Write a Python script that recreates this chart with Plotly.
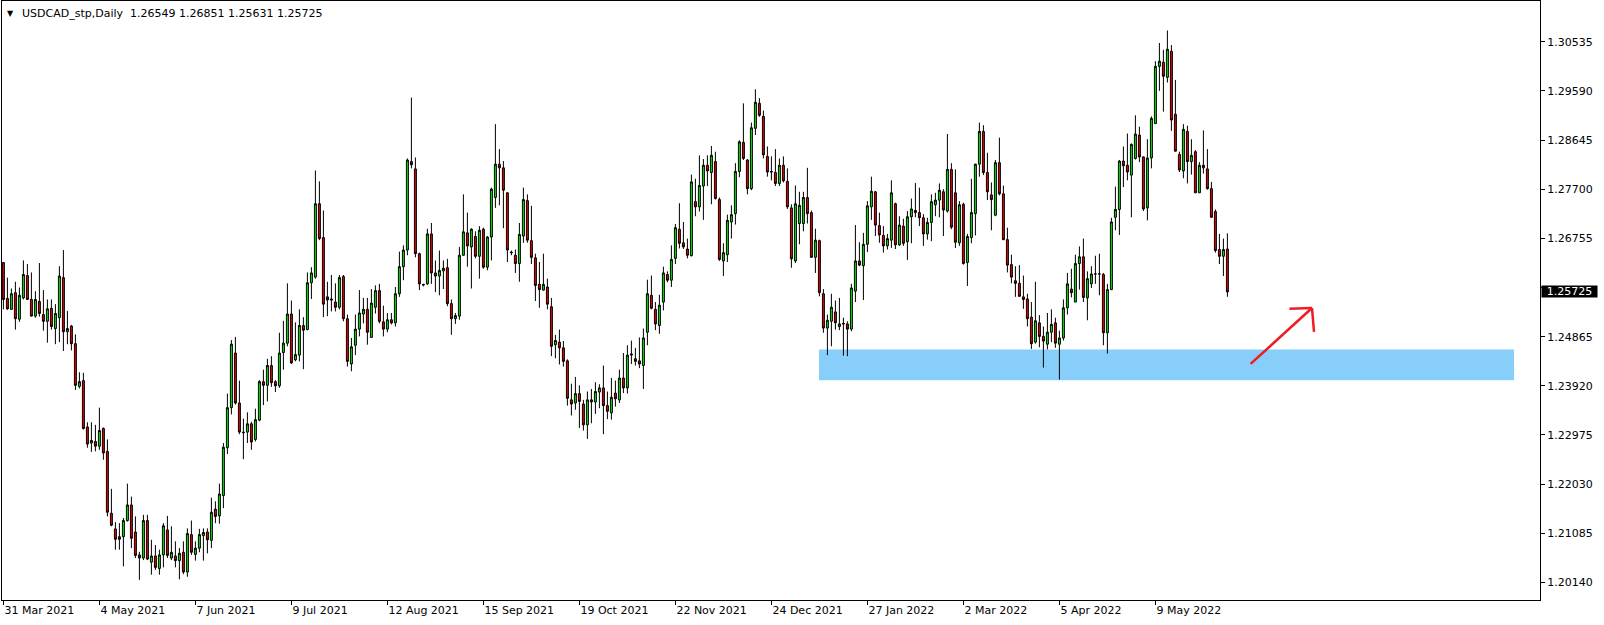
import plotly.graph_objects as go

# ---------------- data (USDCAD daily) ----------------
open_ = [
1.2629,1.2560,1.2539,1.2571,1.2520,1.2561,1.2604,1.2558,1.2526,1.2554,
1.2529,1.2516,1.2541,1.2502,1.2523,1.2600,1.2496,1.2507,1.2473,1.2391,
1.2402,1.2313,1.2282,1.2285,1.2276,1.2310,1.2266,1.2147,1.2117,1.2102,
1.2102,1.2133,1.2163,1.2111,1.2067,1.2061,1.2133,1.2053,1.2065,1.2041,
1.2067,1.2115,1.2061,1.2065,1.2056,1.2072,1.2034,1.2106,1.2068,1.2080,
1.2104,1.2111,1.2095,1.2155,1.2142,1.2181,1.2273,1.2350,1.2455,1.2359,
1.2303,1.2303,1.2319,1.2289,1.2326,1.2400,1.2393,1.2431,1.2400,1.2392,
1.2456,1.2474,1.2530,1.2442,1.2451,1.2508,1.2500,1.2590,1.2601,1.2742,
1.2677,1.2563,1.2559,1.2553,1.2543,1.2602,1.2521,1.2434,1.2470,1.2501,
1.2530,1.2539,1.2485,1.2543,1.2575,1.2515,1.2501,1.2519,1.2513,1.2569,
1.2621,1.2653,1.2823,1.2809,1.2646,1.2587,1.2588,1.2684,1.2609,1.2603,
1.2613,1.2619,1.2550,1.2521,1.2526,1.2643,1.2686,1.2659,1.2679,1.2641,
1.2693,1.2620,1.2678,1.2754,1.2818,1.2811,1.2763,1.2649,1.2643,1.2627,
1.2680,1.2748,1.2671,1.2638,1.2587,1.2576,1.2582,1.2544,1.2471,1.2476,
1.2465,1.2440,1.2365,1.2359,1.2377,1.2357,1.2317,1.2365,1.2361,1.2380,
1.2388,1.2354,1.2340,1.2378,1.2365,1.2407,1.2388,1.2451,1.2444,1.2440,
1.2431,1.2495,1.2566,1.2539,1.2508,1.2553,1.2606,1.2595,1.2637,1.2693,
1.2667,1.2655,1.2642,1.2746,1.2736,1.2776,1.2816,1.2802,1.2823,1.2750,
1.2632,1.2644,1.2707,1.2723,1.2804,1.2860,1.2826,1.2771,1.2887,1.2935,
1.2910,1.2833,1.2804,1.2802,1.2781,1.2816,1.2785,1.2734,1.2632,1.2704,
1.2704,1.2754,1.2725,1.2639,1.2671,1.2569,1.2503,1.2516,1.2534,1.2506,
1.2512,1.2511,1.2501,1.2574,1.2632,1.2623,1.2664,1.2736,1.2765,1.2700,
1.2681,1.2661,1.2672,1.2742,1.2663,1.2699,1.2669,1.2717,1.2729,1.2725,
1.2715,1.2684,1.2706,1.2740,1.2749,1.2765,1.2728,1.2808,1.2763,1.2667,
1.2741,1.2629,1.2677,1.2723,1.2818,1.2881,1.2802,1.2759,1.2720,1.2821,
1.2761,1.2673,1.2625,1.2594,1.2589,1.2563,1.2559,1.2524,1.2476,1.2513,
1.2487,1.2472,1.2495,1.2513,1.2472,1.2484,1.2542,1.2578,1.2553,1.2627,
1.2640,1.2561,1.2588,1.2607,1.2607,1.2606,1.2494,1.2577,1.2716,1.2731,
1.2824,1.2816,1.2797,1.2829,1.2874,1.2832,1.2734,1.2830,1.2896,1.3006,
1.3014,1.2985,1.3035,1.2914,1.2837,1.2805,1.2881,1.2823,1.2842,1.2763,
1.2816,1.2809,1.2771,1.2727,1.2654,1.2641,1.26549]

high = [
1.2630,1.2600,1.2579,1.2592,1.2581,1.2633,1.2626,1.2610,1.2574,1.2628,
1.2576,1.2558,1.2558,1.2549,1.2622,1.2653,1.2536,1.2509,1.2491,1.2418,
1.2417,1.2322,1.2322,1.2317,1.2350,1.2312,1.2289,1.2194,1.2130,1.2128,
1.2138,1.2204,1.2179,1.2141,1.2073,1.2144,1.2144,1.2096,1.2086,1.2077,
1.2128,1.2142,1.2122,1.2093,1.2080,1.2093,1.2118,1.2133,1.2093,1.2117,
1.2118,1.2118,1.2177,1.2170,1.2204,1.2282,1.2377,1.2480,1.2486,1.2402,
1.2329,1.2341,1.2323,1.2348,1.2403,1.2423,1.2444,1.2449,1.2403,1.2494,
1.2517,1.2589,1.2556,1.2514,1.2539,1.2524,1.2610,1.2620,1.2806,1.2785,
1.2729,1.2592,1.2605,1.2589,1.2605,1.2605,1.2529,1.2484,1.2529,1.2576,
1.2561,1.2561,1.2578,1.2585,1.2588,1.2546,1.2532,1.2532,1.2582,1.2650,
1.2662,1.2829,1.2946,1.2831,1.2648,1.2588,1.2694,1.2705,1.2633,1.2652,
1.2633,1.2636,1.2558,1.2532,1.2659,1.2760,1.2725,1.2695,1.2689,1.2699,
1.2696,1.2680,1.2773,1.2895,1.2847,1.2824,1.2764,1.2652,1.2654,1.2705,
1.2773,1.2760,1.2738,1.2646,1.2630,1.2646,1.2598,1.2561,1.2490,1.2500,
1.2478,1.2443,1.2396,1.2409,1.2393,1.2365,1.2381,1.2386,1.2399,1.2395,
1.2431,1.2381,1.2407,1.2402,1.2423,1.2455,1.2470,1.2479,1.2465,1.2485,
1.2502,1.2596,1.2604,1.2553,1.2567,1.2621,1.2612,1.2662,1.2703,1.2743,
1.2707,1.2675,1.2798,1.2790,1.2835,1.2828,1.2835,1.2853,1.2842,1.2754,
1.2666,1.2721,1.2739,1.2820,1.2864,1.2935,1.2828,1.2898,1.2962,1.2945,
1.2921,1.2852,1.2833,1.2847,1.2829,1.2833,1.2810,1.2741,1.2777,1.2765,
1.2765,1.2811,1.2729,1.2694,1.2673,1.2578,1.2529,1.2569,1.2556,1.2561,
1.2523,1.2516,1.2588,1.2701,1.2668,1.2686,1.2747,1.2794,1.2766,1.2725,
1.2699,1.2684,1.2787,1.2744,1.2718,1.2713,1.2728,1.2752,1.2782,1.2773,
1.2722,1.2715,1.2760,1.2763,1.2781,1.2770,1.2876,1.2820,1.2808,1.2747,
1.2744,1.2684,1.2790,1.2819,1.2898,1.2893,1.2840,1.2783,1.2826,1.2869,
1.2777,1.2696,1.2644,1.2622,1.2624,1.2604,1.2569,1.2553,1.2592,1.2528,
1.2506,1.2532,1.2539,1.2523,1.2498,1.2558,1.2609,1.2617,1.2644,1.2660,
1.2675,1.2612,1.2622,1.2642,1.2646,1.2609,1.2588,1.2715,1.2775,1.2826,
1.2852,1.2877,1.2858,1.2912,1.2890,1.2833,1.2866,1.2910,1.3016,1.3051,
1.3038,1.3075,1.3047,1.2980,1.2842,1.2895,1.2892,1.2866,1.2845,1.2822,
1.2883,1.2847,1.2784,1.2731,1.2684,1.2675,1.26851]

low = [
1.2539,1.2538,1.2538,1.2500,1.2515,1.2558,1.2557,1.2525,1.2523,1.2525,
1.2498,1.2475,1.2500,1.2472,1.2476,1.2459,1.2472,1.2460,1.2384,1.2387,
1.2308,1.2273,1.2265,1.2266,1.2269,1.2250,1.2141,1.2122,1.2077,1.2077,
1.2045,1.2131,1.2080,1.2061,1.2019,1.2057,1.2057,1.2029,1.2038,1.2029,
1.2043,1.2061,1.2057,1.2043,1.2020,1.2030,1.2025,1.2067,1.2056,1.2072,
1.2056,1.2070,1.2080,1.2128,1.2127,1.2157,1.2261,1.2337,1.2356,1.2299,
1.2251,1.2282,1.2269,1.2285,1.2324,1.2355,1.2362,1.2390,1.2380,1.2388,
1.2423,1.2468,1.2434,1.2439,1.2439,1.2424,1.2499,1.2559,1.2598,1.2672,
1.2524,1.2526,1.2535,1.2535,1.2539,1.2516,1.2429,1.2420,1.2451,1.2487,
1.2512,1.2471,1.2485,1.2531,1.2512,1.2487,1.2495,1.2510,1.2506,1.2563,
1.2595,1.2643,1.2810,1.2639,1.2576,1.2583,1.2586,1.2588,1.2572,1.2566,
1.2578,1.2545,1.2490,1.2511,1.2519,1.2642,1.2621,1.2579,1.2637,1.2598,
1.2617,1.2614,1.2633,1.2734,1.2739,1.2695,1.2630,1.2643,1.2609,1.2592,
1.2667,1.2667,1.2626,1.2555,1.2542,1.2575,1.2539,1.2449,1.2445,1.2433,
1.2429,1.2354,1.2335,1.2346,1.2311,1.2306,1.2290,1.2320,1.2338,1.2349,
1.2299,1.2328,1.2327,1.2352,1.2359,1.2378,1.2377,1.2434,1.2431,1.2426,
1.2386,1.2470,1.2539,1.2499,1.2492,1.2537,1.2591,1.2582,1.2626,1.2656,
1.2655,1.2637,1.2641,1.2718,1.2727,1.2711,1.2776,1.2741,1.2750,1.2632,
1.2603,1.2630,1.2675,1.2702,1.2793,1.2826,1.2760,1.2768,1.2874,1.2909,
1.2829,1.2794,1.2787,1.2776,1.2776,1.2783,1.2732,1.2619,1.2628,1.2664,
1.2689,1.2704,1.2638,1.2609,1.2564,1.2494,1.2451,1.2468,1.2500,1.2499,
1.2450,1.2449,1.2497,1.2553,1.2622,1.2557,1.2649,1.2711,1.2680,1.2667,
1.2648,1.2654,1.2657,1.2655,1.2661,1.2661,1.2634,1.2666,1.2716,1.2699,
1.2661,1.2673,1.2670,1.2718,1.2716,1.2680,1.2725,1.2693,1.2657,1.2661,
1.2625,1.2584,1.2666,1.2681,1.2794,1.2797,1.2749,1.2691,1.2718,1.2758,
1.2672,1.2610,1.2589,1.2563,1.2563,1.2540,1.2506,1.2463,1.2473,1.2466,
1.2427,1.2462,1.2476,1.2465,1.2404,1.2479,1.2529,1.2562,1.2553,1.2577,
1.2553,1.2518,1.2580,1.2588,1.2566,1.2470,1.2454,1.2576,1.2691,1.2682,
1.2774,1.2787,1.2716,1.2827,1.2822,1.2728,1.2710,1.2810,1.2896,1.2959,
1.2919,1.2975,1.2882,1.2843,1.2803,1.2791,1.2781,1.2798,1.2763,1.2763,
1.2800,1.2769,1.2715,1.2648,1.2626,1.2603,1.25631]

close = [
1.2558,1.2540,1.2569,1.2521,1.2566,1.2606,1.2558,1.2526,1.2558,1.2531,
1.2516,1.2540,1.2506,1.2531,1.2603,1.2496,1.2502,1.2473,1.2393,1.2400,
1.2310,1.2280,1.2287,1.2276,1.2306,1.2263,1.2149,1.2124,1.2097,1.2097,
1.2133,1.2163,1.2099,1.2066,1.2061,1.2133,1.2059,1.2065,1.2043,1.2067,
1.2123,1.2066,1.2072,1.2056,1.2070,1.2034,1.2108,1.2072,1.2080,1.2106,
1.2110,1.2096,1.2149,1.2141,1.2184,1.2274,1.2350,1.2472,1.2359,1.2303,
1.2302,1.2319,1.2284,1.2327,1.2400,1.2393,1.2431,1.2398,1.2392,1.2455,
1.2474,1.2530,1.2436,1.2452,1.2508,1.2499,1.2590,1.2609,1.2742,1.2675,
1.2549,1.2557,1.2557,1.2543,1.2600,1.2521,1.2439,1.2467,1.2501,1.2532,
1.2539,1.2495,1.2551,1.2575,1.2516,1.2501,1.2519,1.2513,1.2569,1.2621,
1.2653,1.2826,1.2817,1.2646,1.2588,1.2586,1.2684,1.2609,1.2603,1.2614,
1.2618,1.2550,1.2521,1.2527,1.2643,1.2688,1.2661,1.2693,1.2641,1.2691,
1.2620,1.2678,1.2770,1.2818,1.2811,1.2768,1.2653,1.2648,1.2627,1.2683,
1.2750,1.2672,1.2639,1.2585,1.2577,1.2587,1.2549,1.2468,1.2479,1.2465,
1.2439,1.2368,1.2357,1.2377,1.2362,1.2317,1.2365,1.2361,1.2381,1.2388,
1.2354,1.2343,1.2370,1.2367,1.2407,1.2388,1.2451,1.2453,1.2439,1.2434,
1.2484,1.2569,1.2541,1.2511,1.2547,1.2609,1.2595,1.2635,1.2696,1.2666,
1.2659,1.2643,1.2784,1.2736,1.2777,1.2816,1.2805,1.2835,1.2752,1.2635,
1.2648,1.2710,1.2721,1.2804,1.2861,1.2829,1.2771,1.2888,1.2937,1.2912,
1.2836,1.2803,1.2803,1.2781,1.2816,1.2786,1.2736,1.2636,1.2742,1.2739,
1.2754,1.2723,1.2639,1.2672,1.2571,1.2503,1.2518,1.2543,1.2513,1.2511,
1.2511,1.2501,1.2580,1.2632,1.2624,1.2664,1.2738,1.2766,1.2701,1.2682,
1.2661,1.2675,1.2763,1.2663,1.2701,1.2666,1.2717,1.2732,1.2725,1.2715,
1.2684,1.2706,1.2746,1.2749,1.2768,1.2730,1.2808,1.2697,1.2668,1.2740,
1.2627,1.2679,1.2725,1.2818,1.2881,1.2802,1.2765,1.2750,1.2821,1.2761,
1.2673,1.2624,1.2601,1.2589,1.2564,1.2558,1.2521,1.2473,1.2517,1.2487,
1.2478,1.2495,1.2510,1.2474,1.2484,1.2542,1.2588,1.2571,1.2627,1.2640,
1.2562,1.2598,1.2607,1.2607,1.2607,1.2494,1.2577,1.2707,1.2731,1.2824,
1.2815,1.2803,1.2856,1.2876,1.2832,1.2732,1.2830,1.2906,1.3006,1.3016,
1.2987,1.3039,1.2903,1.2843,1.2807,1.2885,1.2823,1.2835,1.2763,1.2816,
1.2811,1.2771,1.2716,1.2652,1.2641,1.2654,1.25725]

# date labels on the time axis (one every 24 bars)
date_labels = ["31 Mar 2021", "4 May 2021", "7 Jun 2021", "9 Jul 2021", "12 Aug 2021",
               "15 Sep 2021", "19 Oct 2021", "22 Nov 2021", "24 Dec 2021", "27 Jan 2022",
               "2 Mar 2022", "5 Apr 2022", "9 May 2022"]
label_step = 24

# price axis labels (the 1.25810 level is hidden under the current-price box)
price_levels = ["1.30535", "1.29590", "1.28645", "1.27700", "1.26755", "1.25810",
                "1.24865", "1.23920", "1.22975", "1.22030", "1.21085", "1.20140"]
price_texts = ["1.30535", "1.29590", "1.28645", "1.27700", "1.26755", "",
               "1.24865", "1.23920", "1.22975", "1.22030", "1.21085", "1.20140"]

# support zone (price band) and header
zone_low, zone_high = 1.24025, 1.24616
symbol_header = "USDCAD_stp,Daily"
last_bar = (open_[-1], high[-1], low[-1], close[-1])

assert len(open_) == len(high) == len(low) == len(close), (len(open_), len(high), len(low), len(close))

n = len(open_)
x = list(range(n))

FONT = "DejaVu Sans"

fig = go.Figure()
fig.add_trace(go.Candlestick(
    x=x, open=open_, high=high, low=low, close=close,
    increasing=dict(line=dict(color="black", width=1), fillcolor="#00F000"),
    decreasing=dict(line=dict(color="black", width=1), fillcolor="#EE0000"),
    whiskerwidth=0,
    hoverinfo="skip",
    showlegend=False,
))

# support zone rectangle (drawn behind the candles)
fig.add_shape(type="rect", xref="x", yref="y", x0=203.9, x1=377.65,
              y0=zone_low, y1=zone_high, fillcolor="#87CEFA",
              line=dict(width=0), layer="below")

# hand-drawn red arrow
red = "#EE1C25"
fig.add_shape(type="line", xref="x", yref="y", x0=311.8, y0=1.24341, x1=327.15, y1=1.25415,
              line=dict(color=red, width=2.5))
fig.add_shape(type="line", xref="x", yref="y", x0=321.5, y0=1.25400, x1=327.15, y1=1.25415,
              line=dict(color=red, width=2.5))
fig.add_shape(type="line", xref="x", yref="y", x0=327.15, y0=1.25415, x1=327.65, y1=1.24957,
              line=dict(color=red, width=2.5))

# header text
fig.add_annotation(xref="paper", yref="paper", x=0, y=1, xanchor="left", yanchor="middle",
                   xshift=3, yshift=-12, showarrow=False,
                   text="\u25BC", font=dict(family=FONT, size=8, color="black"))
hdr = symbol_header + "&nbsp; " + " ".join(f"{v:.5f}" for v in last_bar)
fig.add_annotation(xref="paper", yref="paper", x=0, y=1, xanchor="left", yanchor="middle",
                   xshift=18, yshift=-12, showarrow=False,
                   text=hdr, font=dict(family=FONT, size=11, color="black"))

# current price marker on the price scale
fig.add_annotation(xref="paper", yref="y", x=1, y=close[-1], xanchor="left", yanchor="middle",
                   xshift=1, showarrow=False, text=f"{close[-1]:.5f}",
                   font=dict(family=FONT, size=11, color="white"),
                   bgcolor="black", borderpad=0, width=55, height=11, align="center")

fig.update_layout(
    width=1604, height=625,
    margin=dict(l=2, r=64, t=1, b=25, autoexpand=False),
    paper_bgcolor="white", plot_bgcolor="white",
    showlegend=False,
    boxgap=0.3,
    font=dict(family=FONT, size=11, color="black"),
)
fig.update_xaxes(
    range=[-0.35, 384.15],
    tickmode="array",
    tickvals=[i * label_step for i in range(len(date_labels))],
    ticktext=date_labels,
    ticks="outside", ticklen=4, tickcolor="black",
    ticklabelposition="outside right",
    showgrid=False, zeroline=False, automargin=False,
    showline=True, linecolor="black", linewidth=1, mirror=True,
    rangeslider=dict(visible=False),
    tickfont=dict(family=FONT, size=11, color="black"),
)
fig.update_yaxes(
    side="right",
    range=[1.19803, 1.31317],
    tickmode="array",
    tickvals=[float(v) for v in price_levels],
    ticktext=price_texts,
    ticks="outside", ticklen=4, tickcolor="black",
    showgrid=False, zeroline=False, automargin=False,
    showline=True, linecolor="black", linewidth=1, mirror=True,
    tickfont=dict(family=FONT, size=11, color="black"),
)

fig.write_html("out.html",
               config={"displayModeBar": False},
               post_script="document.body.style.margin='0';document.body.style.padding='0';")
